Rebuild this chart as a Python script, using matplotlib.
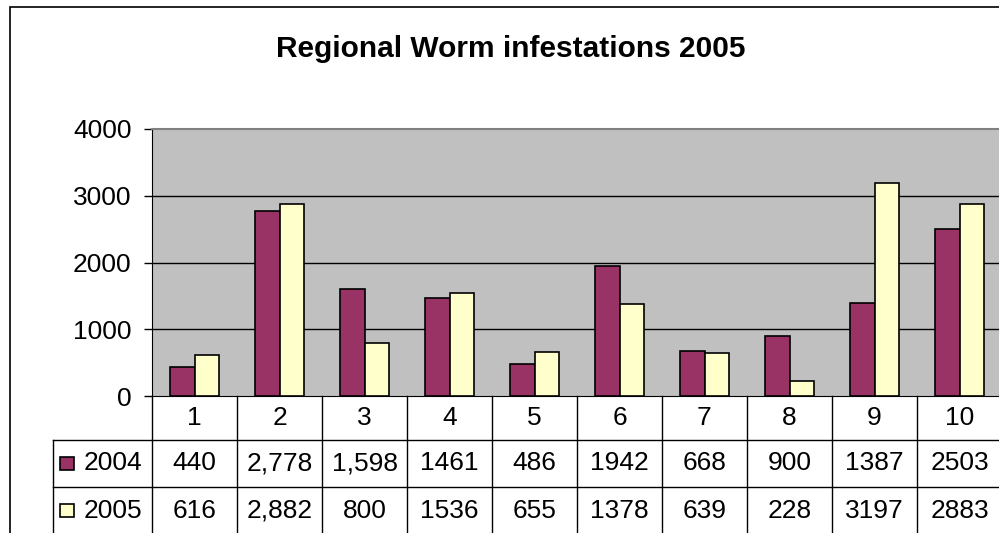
import matplotlib
matplotlib.use("Agg")
import matplotlib.pyplot as plt
from matplotlib.patches import Rectangle
from matplotlib.transforms import blended_transform_factory
import numpy as np

plt.rcParams["font.family"] = ["Liberation Sans", "DejaVu Sans"]

TITLE = "Regional Worm infestations 2005"
CATEGORIES = ["1", "2", "3", "4", "5", "6", "7", "8", "9", "10"]
SERIES = ["2004", "2005"]
VALUES_2004 = [440, 2778, 1598, 1461, 486, 1942, 668, 900, 1387, 2503]
VALUES_2005 = [616, 2882, 800, 1536, 655, 1378, 639, 228, 3197, 2883]
# table shows the numbers exactly as the sheet formatted them
LABELS_2004 = ["440", "2,778", "1,598", "1461", "486", "1942", "668", "900", "1387", "2503"]
LABELS_2005 = ["616", "2,882", "800", "1536", "655", "1378", "639", "228", "3197", "2883"]
Y_TICKS = [0, 1000, 2000, 3000, 4000]

COLORS = {"2004": "#993366", "2005": "#FFFFCC"}
W, H = 999, 533
FS = 19


def fx(px):
    return px / W


def fy(py):
    return 1 - py / H


fig = plt.figure(figsize=(W / 100, H / 100), dpi=100)
fig.patch.set_facecolor("white")

# outer chart frame (cropped on the right and bottom)
fig.patches.append(Rectangle((fx(10), fy(560)), fx(1020) - fx(10), fy(7) - fy(560),
                             transform=fig.transFigure, fill=False, edgecolor="black", lw=1.2))

left, right, top, bottom = 152, 1002, 129, 396
ax = fig.add_axes([fx(left), fy(bottom), fx(right) - fx(left), fy(top) - fy(bottom)])
ax.set_facecolor("#C0C0C0")

x = np.arange(len(CATEGORIES)) + 0.5
bw = 0.29
ax.bar(x - bw / 2, VALUES_2004, bw, color=COLORS["2004"], edgecolor="black", lw=1.2, zorder=3)
ax.bar(x + bw / 2, VALUES_2005, bw, color=COLORS["2005"], edgecolor="black", lw=1.2, zorder=3)

ax.set_xlim(0, len(CATEGORIES))
ax.set_ylim(0, 4000)
ax.set_yticks(Y_TICKS)
ax.set_yticklabels([str(v) for v in Y_TICKS], fontsize=FS)
ax.tick_params(axis="y", direction="out", length=5.8, width=1, pad=9)
ax.set_xticks([])
for v in Y_TICKS[1:-1]:
    ax.axhline(v, color="black", lw=1, zorder=1)
ax.spines["left"].set_color("black")
ax.spines["bottom"].set_color("black")
ax.spines["top"].set_color("#808080")
ax.spines["top"].set_linewidth(1.5)
ax.spines["right"].set_visible(False)

fig.text(fx(511), fy(49), TITLE, ha="center", va="center", fontsize=21.5, fontweight="bold")

# data table under the plot, columns follow the category scale
tr = blended_transform_factory(ax.transData, ax.transAxes)
ph = bottom - top
r1 = -(440 - bottom) / ph
r2 = -(487 - bottom) / ph
r3 = -(560 - bottom) / ph
x_left = (53 - left) / ((right - left) / len(CATEGORIES))
n = len(CATEGORIES)

line_kw = dict(transform=tr, color="black", lw=1, clip_on=False)
for i in range(n + 1):
    ax.plot([i, i], [0, r3], **line_kw)
ax.plot([x_left, n], [r1, r1], **line_kw)
ax.plot([x_left, n], [r2, r2], **line_kw)
ax.plot([x_left, x_left], [r1, r3], **line_kw)

row1 = (r1 + r2) / 2
row2 = r2 - (r1 - r2) / 2
for i, cat in enumerate(CATEGORIES):
    ax.text(i + 0.5, r1 / 2, cat, transform=tr, ha="center", va="center", fontsize=FS)
    ax.text(i + 0.5, row1, LABELS_2004[i], transform=tr, ha="center", va="center", fontsize=FS)
    ax.text(i + 0.5, row2, LABELS_2005[i], transform=tr, ha="center", va="center", fontsize=FS)

for name, ymid in zip(SERIES, [row1, row2]):
    ax.add_patch(Rectangle((x_left + 0.085, ymid - 0.025), 0.16, 0.05, transform=tr,
                           facecolor=COLORS[name], edgecolor="black", lw=1.2, clip_on=False))
    ax.text(x_left + 0.36, ymid, name, transform=tr, ha="left", va="center", fontsize=FS)

fig.savefig("out.png", dpi=100)
